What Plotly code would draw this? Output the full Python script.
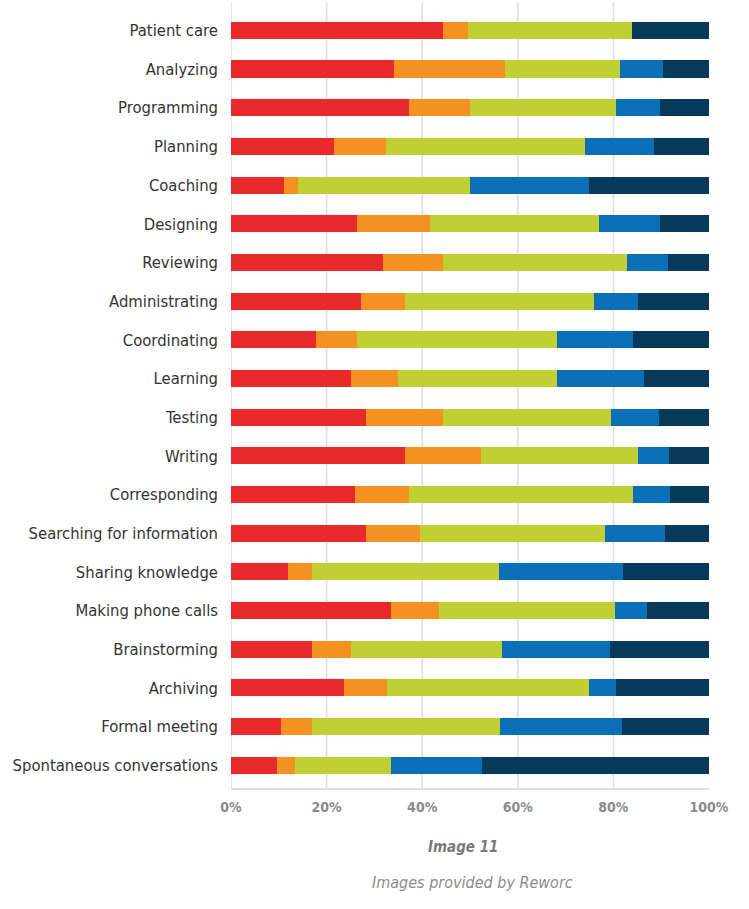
import plotly.graph_objects as go

# Activities, listed top to bottom
categories = [
    "Patient care", "Analyzing", "Programming", "Planning", "Coaching",
    "Designing", "Reviewing", "Administrating", "Coordinating", "Learning",
    "Testing", "Writing", "Corresponding", "Searching for information",
    "Sharing knowledge", "Making phone calls", "Brainstorming", "Archiving",
    "Formal meeting", "Spontaneous conversations",
]

# Share of time (%) per segment, same order as categories
seg_red = [44.4, 34.0, 37.3, 21.6, 11.1, 26.4, 31.7, 27.3, 17.8, 25.2,
           28.3, 36.3, 26.0, 28.3, 11.9, 33.5, 17.0, 23.7, 10.5, 9.6]
seg_orange = [5.1, 23.4, 12.8, 10.9, 2.9, 15.3, 12.7, 9.0, 8.6, 9.8,
              16.1, 16.1, 11.3, 11.3, 5.1, 10.1, 8.2, 9.0, 6.5, 3.8]
seg_green = [34.4, 23.9, 30.4, 41.5, 36.1, 35.2, 38.4, 39.6, 41.7, 33.1,
             35.1, 32.7, 46.8, 38.6, 39.0, 36.7, 31.4, 42.1, 39.2, 20.1]
seg_blue = [0.0, 9.1, 9.2, 14.5, 24.7, 12.8, 8.6, 9.2, 16.0, 18.3,
            10.0, 6.5, 7.7, 12.6, 26.0, 6.7, 22.6, 5.7, 25.6, 19.1]
seg_navy = [16.1, 9.6, 10.3, 11.5, 25.2, 10.3, 8.6, 14.9, 15.9, 13.6,
            10.5, 8.4, 8.2, 9.2, 18.0, 13.0, 20.8, 19.5, 18.2, 47.4]

x_ticks = [0, 20, 40, 60, 80, 100]
x_tick_text = ["0%", "20%", "40%", "60%", "80%", "100%"]
grid_at = [0, 20, 40, 60, 80]

series = [
    (seg_red, "#E92A2B"),
    (seg_orange, "#F39221"),
    (seg_green, "#C0D032"),
    (seg_blue, "#0B6FB8"),
    (seg_navy, "#06395A"),
]

FONT = "DejaVu Sans Condensed, Liberation Sans Narrow, Arial Narrow, sans-serif"

W, H = 749, 909
L, R, T, B = 231, 40, 2, 121

fig = go.Figure()
for values, color in series:
    fig.add_trace(go.Bar(
        y=categories, x=values, orientation="h",
        marker=dict(color=color, line=dict(width=0)),
        width=0.44, showlegend=False,
    ))

# vertical gridlines (none at 100%)
for g in grid_at:
    fig.add_shape(type="line", xref="x", yref="paper", x0=g, x1=g, y0=0, y1=1,
                  line=dict(color="#DEDEDE", width=1.6), layer="below")


def px_to_paper(px, py):
    pw, ph = W - L - R, H - T - B
    return (px - L) / pw, 1 - (py - T) / ph


cap1 = px_to_paper(463, 847)
cap2 = px_to_paper(472, 882)

fig.update_layout(
    barmode="stack",
    width=W, height=H,
    margin=dict(l=L, r=R, t=T, b=B),
    paper_bgcolor="white", plot_bgcolor="white",
    font=dict(family=FONT),
    xaxis=dict(
        range=[0, 100], tickvals=x_ticks, ticktext=x_tick_text,
        showgrid=False, zeroline=False, automargin=False,
        showline=True, linecolor="#DCDCDC", linewidth=1.6,
        tickfont=dict(family=FONT, size=14, color="#8A8A8A", weight="bold"),
        ticks="", ticklabelstandoff=5, fixedrange=True,
    ),
    yaxis=dict(
        categoryorder="array", categoryarray=categories,
        range=[19.587, -0.732], automargin=False,
        showgrid=False, zeroline=False, showline=False,
        tickfont=dict(family=FONT, size=16.5, color="#333333"),
        ticks="", ticklabelstandoff=12, fixedrange=True,
    ),
    annotations=[
        dict(text="<b><i>Image 11</i></b>", x=cap1[0], y=cap1[1],
             xref="paper", yref="paper", xanchor="center", yanchor="middle",
             showarrow=False, font=dict(family=FONT, size=15, color="#7A7A7A")),
        dict(text="<i>Images provided by Reworc</i>", x=cap2[0], y=cap2[1],
             xref="paper", yref="paper", xanchor="center", yanchor="middle",
             showarrow=False, font=dict(family=FONT, size=16, color="#8C8C8C")),
    ],
)

fig.write_html("out.html")
